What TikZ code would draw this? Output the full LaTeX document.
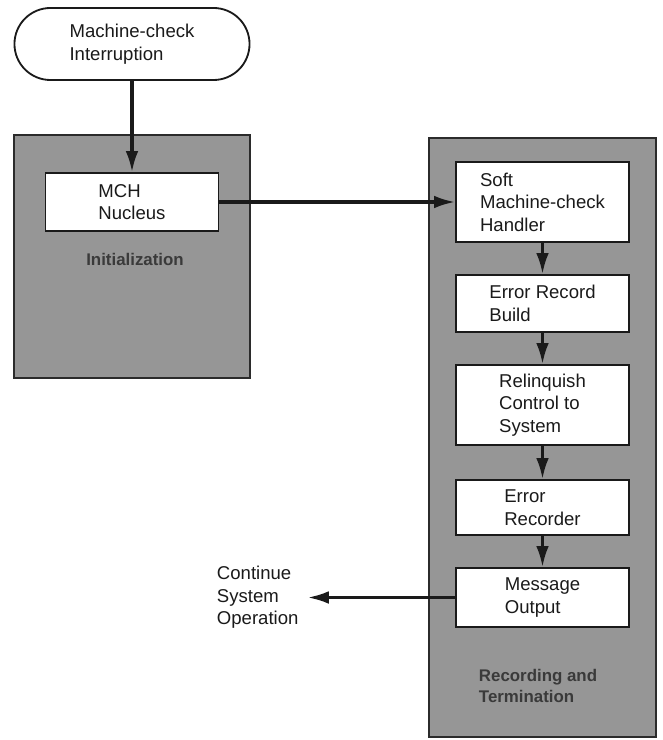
\documentclass[tikz,border=0pt]{standalone}
\usepackage{fontspec}
\setmainfont{Liberation Sans}
\usepackage{xcolor}
\usepackage{tikz}
\definecolor{mchInk}{HTML}{1A1A1A}
\definecolor{mchPanel}{HTML}{969696}
\definecolor{mchPanelEdge}{HTML}{2B2B2B}
\definecolor{mchLabel}{HTML}{3A3A3A}
\definecolor{mchWhite}{HTML}{FFFFFF}
\usetikzlibrary{arrows.meta}

\begin{document}
\begin{tikzpicture}[
  x=0.025cm, y=-0.025cm,
  font=\fontsize{13.2}{16}\selectfont,
  >=Latex,
  panel/.style={draw=mchPanelEdge, line width=1.5pt, fill=mchPanel, inner sep=0pt},
  procbox/.style={draw=mchInk, line width=1.2pt, fill=mchWhite, text=mchInk, minimum width=4.325cm, align=left, inner sep=0pt},
  terminal/.style={draw=mchInk, line width=1.3pt, rounded corners=0.9cm, fill=mchWhite, text=mchInk, minimum width=5.875cm, minimum height=1.8cm, align=left},
  flow/.style={-{Latex[length=15pt, width=9pt]}, line width=2.2pt, mchInk},
  paneltext/.style={font=\fontsize{12}{15.5}\selectfont\bfseries, text=mchLabel, align=left}
]
\useasboundingbox (0,0) rectangle (662,740);

% Shaded stages
\node[panel, minimum width=5.9cm, minimum height=6.075cm] (init) at (132,256.5) {};
\node[panel, minimum width=5.675cm, minimum height=14.975cm] (record) at (542.5,437.5) {};
\node[paneltext] (initlabel) at (135,259) {Initialization};
\node[paneltext] (reclabel) at (538,686) {Recording and\\Termination};

% Entry and exit
\node[terminal] (mci) at (132,44) {Machine-check\\Interruption};
\node[anchor=west, align=left, text=mchInk] (cont) at (212,597.5) {Continue\\System\\Operation};

% Processing steps
\node[procbox, minimum height=1.45cm] (mch) at (132,202) {MCH\\Nucleus};
\node[procbox, minimum height=2.0cm] (soft) at (542.5,202) {Soft\\Machine-check\\Handler};
\node[procbox, minimum height=1.425cm] (erb) at (542.5,303.5) {Error Record\\Build};
\node[procbox, minimum height=2.0cm] (relinq) at (542.5,405) {Relinquish\\Control to\\System};
\node[procbox, minimum height=1.375cm] (recorder) at (542.5,507.5) {Error\\Recorder};
\node[procbox, minimum height=1.475cm] (msg) at (542.5,597.5) {Message\\Output};

\draw[flow] (mci) -- (mch);
\draw[flow] (mch) -- (soft);
\draw[flow] (soft) -- (erb);
\draw[flow] (erb) -- (relinq);
\draw[flow] (relinq) -- (recorder);
\draw[flow] (recorder) -- (msg);
\draw[flow] (msg) -- ([xshift=3pt]cont.east);

\end{tikzpicture}
\end{document}
